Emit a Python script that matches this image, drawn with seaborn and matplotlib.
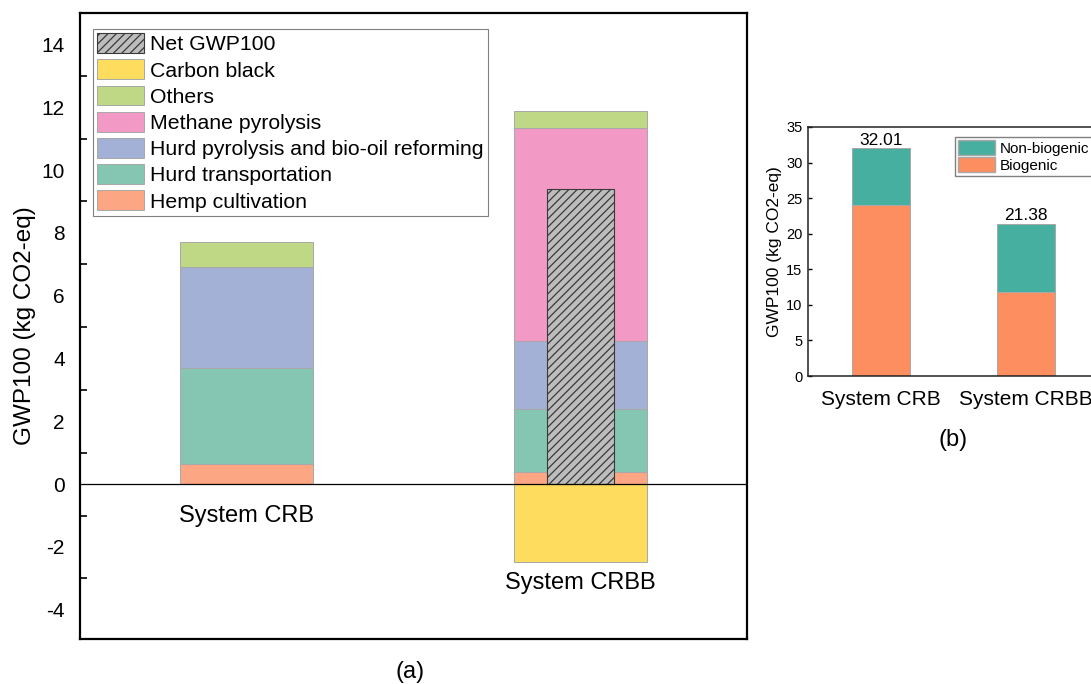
import numpy as np
import matplotlib
matplotlib.use("Agg")
import matplotlib.pyplot as plt
from matplotlib.patches import Patch
from matplotlib.ticker import MultipleLocator
import seaborn as sns

# ---------------------------------------------------------------------------
# Data
# ---------------------------------------------------------------------------
systems = ["System CRB", "System CRBB"]

# (a) GWP100 contribution of each process (kg CO2-eq)
hemp_cultivation = [0.63, 0.39]
hurd_transportation = [3.06, 2.01]
hurd_pyrolysis = [3.21, 2.16]
methane_pyrolysis = [0.00, 6.79]
others = [0.80, 0.53]
carbon_black = [0.00, -2.47]
net_systems = ["System CRBB"]

# (b) biogenic / non-biogenic split (kg CO2-eq)
biogenic = [24.10, 11.80]
non_biogenic = [7.91, 9.58]

# ---------------------------------------------------------------------------
# Style
# ---------------------------------------------------------------------------
sns.set_theme(style="white")
plt.rcParams["font.family"] = ["Liberation Sans", "DejaVu Sans"]
plt.rcParams["hatch.linewidth"] = 0.9
plt.rcParams["axes.unicode_minus"] = False
for key in ("text.color", "axes.labelcolor", "xtick.color", "ytick.color",
            "xtick.labelcolor", "ytick.labelcolor"):
    plt.rcParams[key] = "black"

col_hemp = "#FCA683"
col_transport = "#85C6B3"
col_hurd = "#A3B1D6"
col_methane = "#F29AC5"
col_others = "#BFD885"
col_carbon = "#FEDC5E"
col_net = "#BDBDBD"
col_bio = "#FC8E5F"
col_nonbio = "#47AF9F"
edge_light = "#A8A8A8"

fig = plt.figure(figsize=(10.91, 6.84), dpi=100)

# ---------------------------------------------------------------------------
# Panel (a): stacked contributions with the net result overlaid
# ---------------------------------------------------------------------------
ax = fig.add_axes([80 / 1091, 45 / 684, 667 / 1091, 626 / 684])

layers = [
    ("Hemp cultivation", hemp_cultivation, col_hemp),
    ("Hurd transportation", hurd_transportation, col_transport),
    ("Hurd pyrolysis and bio-oil reforming", hurd_pyrolysis, col_hurd),
    ("Methane pyrolysis", methane_pyrolysis, col_methane),
    ("Others", others, col_others),
]
bottom = np.zeros(len(systems))
for name, vals, col in layers:
    sns.barplot(x=systems, y=vals, order=systems, bottom=bottom, color=col,
                saturation=1, width=0.4, edgecolor=edge_light, linewidth=0.7,
                ax=ax)
    bottom = bottom + np.asarray(vals)

sns.barplot(x=systems, y=carbon_black, order=systems, color=col_carbon,
            saturation=1, width=0.4, edgecolor=edge_light, linewidth=0.7, ax=ax)

# Net GWP100 = sum of all contributions (shown for the system with credits)
totals_a = (np.asarray(hemp_cultivation) + np.asarray(hurd_transportation)
            + np.asarray(hurd_pyrolysis) + np.asarray(methane_pyrolysis)
            + np.asarray(others) + np.asarray(carbon_black))
net_values = [totals_a[systems.index(s)] for s in net_systems]
sns.barplot(x=net_systems, y=net_values, order=systems, color=col_net,
            saturation=1, width=0.2, edgecolor="#3a3a3a", linewidth=0.8,
            hatch="////", ax=ax)

ax.axhline(0, color="black", linewidth=0.9, zorder=5)

ax.set_xlim(-0.5, 1.5)
ax.set_ylim(-4.93, 15.0)
ax.set_xticks([])
ax.set_xlabel("")
ax.yaxis.set_major_locator(MultipleLocator(2))
ax.yaxis.set_minor_locator(MultipleLocator(1))
ax.tick_params(axis="y", which="major", length=0, pad=11, labelsize=15,
               left=True)
ax.tick_params(axis="y", which="minor", direction="in", length=5, width=1.2,
               color="black", left=True)
ax.set_ylabel("GWP100 (kg CO2-eq)", fontsize=17.5, labelpad=4)
for sp in ax.spines.values():
    sp.set_visible(True)
    sp.set_color("black")
    sp.set_linewidth(1.6)

# category names placed beneath each bar
label_y = [-1.0, -3.15]
for i, s in enumerate(systems):
    ax.text(i, label_y[i], s, ha="center", va="center", fontsize=17)

handles = [Patch(facecolor=col_net, edgecolor="#3a3a3a", hatch="////",
                 linewidth=0.8, label="Net GWP100"),
           Patch(facecolor=col_carbon, edgecolor=edge_light, linewidth=0.7,
                 label="Carbon black")]
for name, vals, col in reversed(layers):
    handles.append(Patch(facecolor=col, edgecolor=edge_light, linewidth=0.7,
                         label=name))
leg = ax.legend(handles=handles, loc="upper left",
                bbox_to_anchor=(13 / 667, 1 - 16 / 626), borderaxespad=0,
                fontsize=15.3, frameon=True, fancybox=False, framealpha=1,
                edgecolor="#808080", handlelength=2.2, handleheight=1.05,
                handletextpad=0.3, labelspacing=0.24, borderpad=0.2)
leg.get_frame().set_linewidth(0.8)

fig.text(410 / 1091, 1 - 672 / 684, "(a)", ha="center", va="center",
         fontsize=17)

# ---------------------------------------------------------------------------
# Panel (b): biogenic vs non-biogenic
# ---------------------------------------------------------------------------
bx = fig.add_axes([808 / 1091, (684 - 376) / 684, 291 / 1091, 249 / 684])
sns.barplot(x=systems, y=biogenic, order=systems, color=col_bio, saturation=1,
            width=0.4, edgecolor=edge_light, linewidth=0.7, ax=bx)
sns.barplot(x=systems, y=non_biogenic, order=systems, bottom=biogenic,
            color=col_nonbio, saturation=1, width=0.4, edgecolor=edge_light,
            linewidth=0.7, ax=bx)

totals_b = np.asarray(biogenic) + np.asarray(non_biogenic)
for i, t in enumerate(totals_b):
    bx.text(i, t + 0.1, f"{t:.2f}", ha="center", va="bottom", fontsize=12.5)

bx.set_xlim(-0.5, 1.5)
bx.set_ylim(0, 35)
bx.yaxis.set_major_locator(MultipleLocator(5))
bx.tick_params(axis="y", direction="in", length=3, width=1, pad=4,
               labelsize=10.5, left=True)
bx.tick_params(axis="x", length=0, pad=10, labelsize=15)
bx.set_xlabel("")
bx.set_ylabel("GWP100 (kg CO2-eq)", fontsize=12.5, labelpad=3)
for sp in bx.spines.values():
    sp.set_visible(True)
    sp.set_color("#222222")
    sp.set_linewidth(1.1)

bx.legend(handles=[Patch(facecolor=col_nonbio, edgecolor=edge_light,
                         label="Non-biogenic"),
                   Patch(facecolor=col_bio, edgecolor=edge_light,
                         label="Biogenic")],
          loc="upper right", bbox_to_anchor=(0.976, 0.96), borderaxespad=0,
          fontsize=11, frameon=True, fancybox=False, framealpha=1,
          edgecolor="#808080", handlelength=2.4, handleheight=1.1,
          handletextpad=0.3, labelspacing=0.1, borderpad=0.2)

fig.text(953 / 1091, 1 - 440 / 684, "(b)", ha="center", va="center",
         fontsize=17)

fig.savefig("out.png", dpi=100)
